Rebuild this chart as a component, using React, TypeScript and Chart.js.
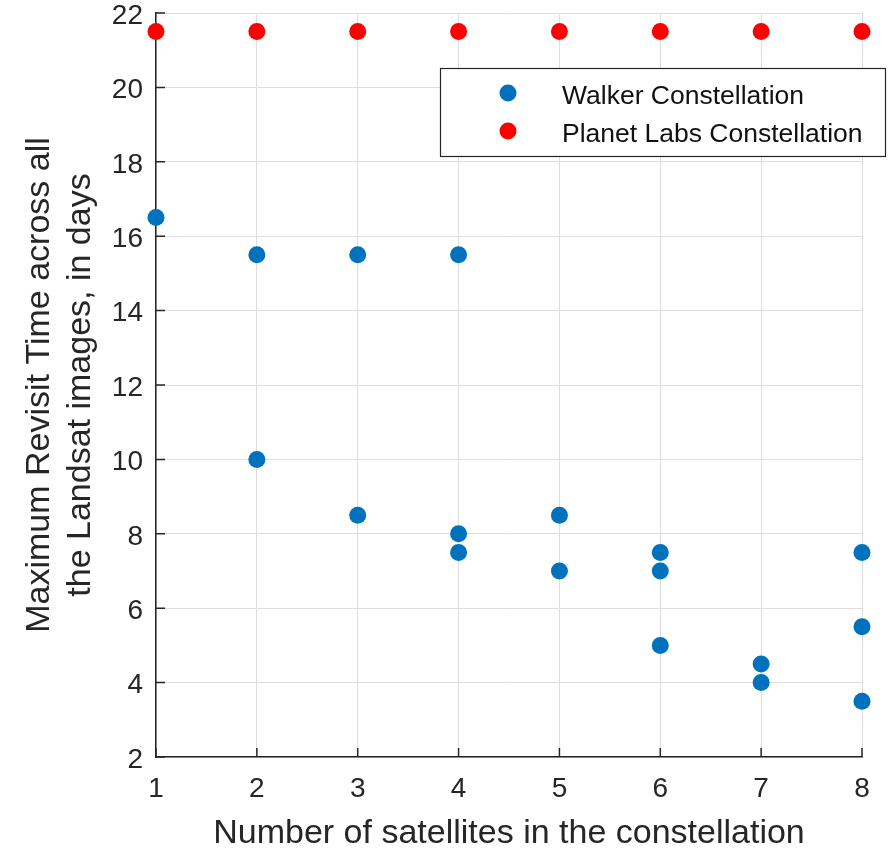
import React, { useEffect, useRef } from "react";
import { Chart, registerables } from "chart.js";

Chart.register(...registerables);

const walkerSatellites = [1, 2, 2, 3, 3, 4, 4, 4, 5, 5, 6, 6, 6, 7, 7, 8, 8, 8];
const walkerRevisit = [16.5, 15.5, 10, 15.5, 8.5, 15.5, 8, 7.5, 8.5, 7, 7.5, 7, 5, 4.5, 4, 7.5, 5.5, 3.5];
const planetSatellites = [1, 2, 3, 4, 5, 6, 7, 8];
const planetRevisit = [21.5, 21.5, 21.5, 21.5, 21.5, 21.5, 21.5, 21.5];
const seriesLabels = ["Walker Constellation", "Planet Labs Constellation"];
const xTitle = "Number of satellites in the constellation";
const yTitle = ["Maximum Revisit Time across all", "the Landsat images, in days"];

const FONT = "'Liberation Sans', Arial, Helvetica, sans-serif";
const AXIS = "#262626";
const GRID = "#dedede";
const BLUE = "#0072BD";
const RED = "#FF0000";

const innerTicks = {
  id: "innerTicks",
  afterDraw(chart: any) {
    const ctx = chart.ctx;
    const { left, bottom } = chart.chartArea;
    const xs = chart.scales.x;
    const ys = chart.scales.y;
    const len = 9;
    ctx.save();
    ctx.strokeStyle = AXIS;
    ctx.lineWidth = 1.5;
    ctx.beginPath();
    xs.ticks.forEach((t: any) => {
      const px = xs.getPixelForValue(t.value);
      ctx.moveTo(px, bottom);
      ctx.lineTo(px, bottom - len);
    });
    ys.ticks.forEach((t: any) => {
      const py = ys.getPixelForValue(t.value);
      ctx.moveTo(left, py);
      ctx.lineTo(left + len, py);
    });
    ctx.stroke();
    ctx.restore();
  },
};

const boxLegend = {
  id: "boxLegend",
  afterDraw(chart: any) {
    const ctx = chart.ctx;
    const W = chart.width;
    const boxRight = W - 5;
    const boxLeft = boxRight - 446;
    const boxTop = chart.chartArea.top + 55;
    const boxH = 89;
    ctx.save();
    ctx.fillStyle = "#ffffff";
    ctx.fillRect(boxLeft, boxTop, boxRight - boxLeft, boxH);
    ctx.strokeStyle = AXIS;
    ctx.lineWidth = 1.2;
    ctx.strokeRect(boxLeft + 0.5, boxTop + 0.5, boxRight - boxLeft - 1, boxH - 1);
    ctx.font = `26.5px ${FONT}`;
    ctx.textBaseline = "middle";
    ctx.textAlign = "left";
    chart.data.datasets.forEach((ds: any, i: number) => {
      const cy = boxTop + 26 + i * 38;
      ctx.fillStyle = ds.backgroundColor;
      ctx.beginPath();
      ctx.arc(boxLeft + 68, cy - 1, 8.5, 0, Math.PI * 2);
      ctx.fill();
      ctx.fillStyle = "#111111";
      ctx.fillText(ds.label, boxLeft + 122, cy + 3);
    });
    ctx.restore();
  },
};

export default function App() {
  const ref = useRef<HTMLCanvasElement>(null);
  useEffect(() => {
    document.body.style.margin = "0";
    document.body.style.overflow = "hidden";
    const walker = walkerSatellites.map((x, i) => ({ x, y: walkerRevisit[i] }));
    const planet = planetSatellites.map((x, i) => ({ x, y: planetRevisit[i] }));
    const chart = new Chart(ref.current!, {
      type: "scatter",
      data: {
        datasets: [
          {
            label: seriesLabels[0],
            data: walker,
            backgroundColor: BLUE,
            borderColor: BLUE,
            borderWidth: 0,
            pointRadius: 8.5,
            pointHoverRadius: 8.5,
            clip: false as any,
          },
          {
            label: seriesLabels[1],
            data: planet,
            backgroundColor: RED,
            borderColor: RED,
            borderWidth: 0,
            pointRadius: 8.5,
            pointHoverRadius: 8.5,
            clip: false as any,
          },
        ],
      },
      options: {
        responsive: false,
        animation: false,
        events: [],
        layout: { padding: { top: 13, right: 29, left: 0, bottom: 0 } },
        plugins: { legend: { display: false }, tooltip: { enabled: false } },
        scales: {
          x: {
            type: "linear",
            min: 1,
            max: 8,
            ticks: {
              stepSize: 1,
              color: AXIS,
              padding: 15,
              font: { family: FONT, size: 28, lineHeight: 1.2 },
            },
            grid: { color: GRID, lineWidth: 1, drawTicks: false },
            border: { display: true, color: AXIS, width: 1.5 },
            title: {
              display: true,
              text: xTitle,
              color: AXIS,
              font: { family: FONT, size: 34, lineHeight: 1 },
              padding: { top: 0, bottom: 0 },
            },
            afterFit(scale: any) {
              scale.height = 94;
              scale.paddingLeft = 0;
              scale.paddingRight = 0;
              scale.paddingTop = 0;
              scale.paddingBottom = 0;
            },
          },
          y: {
            type: "linear",
            min: 2,
            max: 22,
            ticks: {
              stepSize: 2,
              color: AXIS,
              padding: 13,
              labelOffset: 3,
              font: { family: FONT, size: 28, lineHeight: 1.2 },
            },
            grid: { color: GRID, lineWidth: 1, drawTicks: false },
            border: { display: true, color: AXIS, width: 1.5 },
            title: {
              display: true,
              text: yTitle,
              color: AXIS,
              font: { family: FONT, size: 34, lineHeight: 1.18 },
              padding: { top: 20, bottom: 0 },
            },
            afterFit(scale: any) {
              scale.width = 156;
              scale.paddingLeft = 0;
              scale.paddingRight = 0;
              scale.paddingTop = 0;
              scale.paddingBottom = 0;
            },
          },
        },
      },
      plugins: [innerTicks, boxLegend],
    });
    return () => chart.destroy();
  }, []);
  return (
    <div style={{ position: "absolute", left: 0, top: 0, width: 891, height: 851, background: "#fff" }}>
      <canvas ref={ref} width={891} height={851} />
    </div>
  );
}
